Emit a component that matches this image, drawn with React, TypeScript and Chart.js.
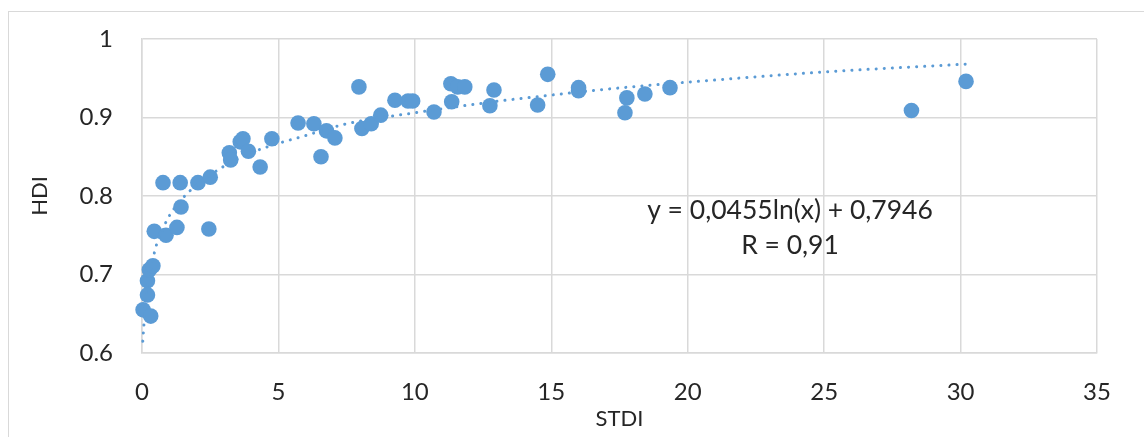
import React, { useEffect, useRef } from "react";
import { Chart, registerables } from "chart.js";

Chart.register(...registerables);

// STDI (x) values of the countries
const stdiValues: number[] = [
  0.04, 0.2, 0.2, 0.32, 0.27, 0.4, 0.45, 0.77, 0.88, 1.28,
  1.4, 1.43, 2.05, 2.5, 2.45, 3.2, 3.25, 3.6, 3.7, 3.9,
  4.33, 4.76, 5.72, 6.3, 6.56, 6.76, 7.07, 7.95, 8.06, 8.4,
  8.75, 9.27, 9.75, 9.92, 10.7, 11.35, 11.32, 11.57, 11.83, 12.75,
  12.9, 14.5, 14.87, 16.0, 16.0, 17.77, 17.7, 18.43, 19.35, 28.2,
  30.2,
];
// HDI (y) values of the countries
const hdiValues: number[] = [
  0.655, 0.692, 0.674, 0.647, 0.706, 0.711, 0.755, 0.817, 0.75, 0.76,
  0.817, 0.786, 0.817, 0.824, 0.758, 0.855, 0.846, 0.869, 0.873, 0.857,
  0.837, 0.873, 0.893, 0.892, 0.85, 0.883, 0.874, 0.939, 0.886, 0.892,
  0.903, 0.922, 0.921, 0.921, 0.907, 0.92, 0.943, 0.939, 0.939, 0.915,
  0.935, 0.916, 0.955, 0.938, 0.934, 0.925, 0.906, 0.93, 0.938, 0.909,
  0.946,
];
// Logarithmic trendline
const trendX: number[] = [0.03, 0.07, 0.15, 0.25, 0.4, 0.55, 0.77, 1.06, 1.65, 2.82, 4, 5, 5.9, 7.5, 10, 13.1, 14.6, 17, 20, 25, 30.2];
const trendY: number[] = [0.615, 0.636, 0.672, 0.695, 0.72, 0.74, 0.759, 0.778, 0.803, 0.834, 0.855, 0.867, 0.876, 0.892, 0.906, 0.921, 0.927, 0.936, 0.945, 0.958, 0.968];

const xTickLabels: string[] = ["0", "5", "10", "15", "20", "25", "30", "35"];
const yTickLabels: string[] = ["0.6", "0.7", "0.8", "0.9", "1"];
const equationLines: string[] = ["y = 0,0455ln(x) + 0,7946", "R = 0,91"];
const xTitle = "STDI";
const yTitle = "HDI";

const FONT = "Lato, 'Noto Sans', sans-serif";
const BLUE = "#5B9BD5";
const GRID = "#d9d9d9";
const TEXT = "#262626";

export default function App() {
  const ref = useRef<HTMLCanvasElement | null>(null);

  useEffect(() => {
    document.documentElement.style.overflow = "hidden";
    document.body.style.overflow = "hidden";
    const canvas = ref.current;
    if (!canvas) return;

    const equationPlugin = {
      id: "equation",
      afterDatasetsDraw(chart: any) {
        const { ctx, chartArea } = chart;
        ctx.save();
        ctx.fillStyle = TEXT;
        ctx.font = `26.5px ${FONT}`;
        ctx.textAlign = "center";
        ctx.textBaseline = "middle";
        const cx = chartArea.left + 648;
        ctx.fillText(equationLines[0], cx, chartArea.top + 171);
        ctx.fillText(equationLines[1], cx, chartArea.top + 206);
        ctx.restore();
      },
    };

    const chart = new Chart(canvas, {
      type: "scatter",
      data: {
        datasets: [
          {
            label: "trend",
            data: trendX.map((x, i) => ({ x, y: trendY[i] })),
            showLine: true,
            borderColor: BLUE,
            borderWidth: 3,
            borderDash: [0.1, 8],
            borderCapStyle: "round",
            cubicInterpolationMode: "monotone",
            pointRadius: 0,
            fill: false,
            clip: false,
          } as any,
          {
            label: "HDI",
            data: stdiValues.map((x, i) => ({ x, y: hdiValues[i] })),
            backgroundColor: BLUE,
            borderWidth: 0,
            pointRadius: 7.8,
            pointHoverRadius: 7.8,
            clip: false,
          } as any,
        ],
      },
      options: {
        responsive: false,
        animation: false,
        devicePixelRatio: 1,
        layout: { padding: { top: 27, right: 47, left: 0, bottom: 0 } },
        plugins: {
          legend: { display: false },
          tooltip: { enabled: false },
        },
        scales: {
          x: {
            type: "linear",
            min: 0,
            max: 35,
            afterFit: (s: any) => {
              s.height = 84;
            },
            ticks: {
              stepSize: 5,
              padding: 25,
              color: TEXT,
              font: { family: FONT, size: 24 },
              callback: (v: any) => xTickLabels[Math.round(Number(v) / 5)] ?? "",
            },
            grid: { color: GRID, lineWidth: 1.5, drawTicks: false },
            border: { color: GRID, width: 1.5 },
            title: {
              display: true,
              text: xTitle,
              color: TEXT,
              font: { family: FONT, size: 22 },
              padding: { top: 0, bottom: 5 },
            },
          },
          y: {
            type: "linear",
            min: 0.6,
            max: 1,
            afterFit: (s: any) => {
              s.width = 133;
            },
            ticks: {
              stepSize: 0.1,
              padding: 0,
              color: TEXT,
              font: { family: FONT, size: 24 },
              callback: (v: any) => yTickLabels[Math.round((Number(v) - 0.6) * 10)] ?? "",
            },
            grid: {
              color: GRID,
              lineWidth: 1.5,
              drawTicks: true,
              tickLength: 29,
              tickColor: "rgba(0,0,0,0)",
            },
            border: { color: GRID, width: 1.5 },
            title: {
              display: true,
              text: yTitle,
              color: TEXT,
              font: { family: FONT, size: 22 },
              padding: { top: 18, bottom: 0 },
            },
          },
        },
      },
      plugins: [equationPlugin],
    });
    return () => chart.destroy();
  }, []);

  return (
    <div
      style={{
        position: "absolute",
        left: 8,
        top: 11,
        width: 1160,
        height: 440,
        borderTop: `1px solid ${GRID}`,
        borderLeft: `1px solid ${GRID}`,
        background: "#fff",
      }}
    >
      <canvas ref={ref} width={1135} height={425} style={{ display: "block" }} />
    </div>
  );
}
